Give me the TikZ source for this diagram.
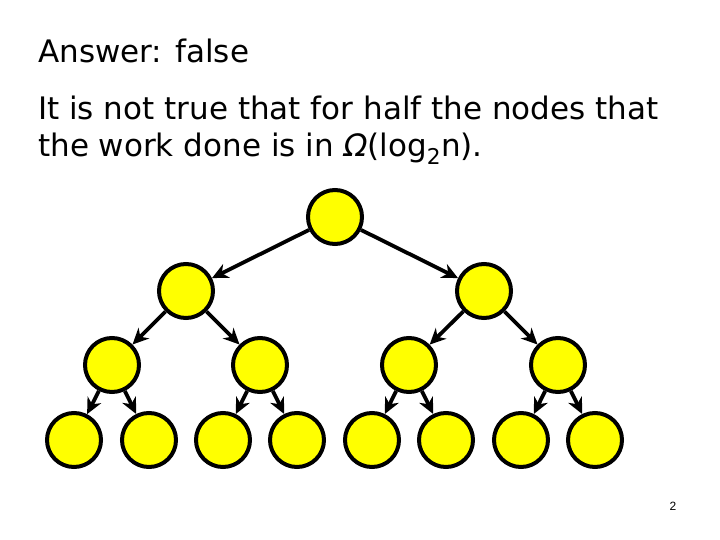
\documentclass[tikz,border=0pt]{standalone}
\usepackage{fontspec}
\setmainfont{DejaVu Sans}
\setsansfont{Liberation Sans}
\usetikzlibrary{arrows.meta}
\definecolor{nodeyellow}{RGB}{255,255,0}
\tikzset{
  tnode/.style={circle, draw=black, line width=4pt, fill=nodeyellow, minimum size=54pt, inner sep=0pt},
  tedge/.style={line width=3.8pt, -{Stealth[length=16pt,width=15pt,inset=5pt]}},
  txt/.style={anchor=base west, inner sep=0pt, font=\fontsize{31}{37}\selectfont}
}
\begin{document}
\begin{tikzpicture}[x=1pt,y=-1pt]
\useasboundingbox (0,0) rectangle (720,540);
\node[txt] (t1) at (38,63) {Answer: false};
\node[txt] (t2) at (38,120) {It is not true that for half the nodes that};
\node[txt] (t3) at (38,157) {the work done is in \textit{Ω}(log\textsubscript{2}n).};
\node[anchor=base, inner sep=0pt, font=\sffamily\fontsize{12}{14}\selectfont] (pg) at (673,510) {2};

\node[tnode] (r) at (335,217) {};
\node[tnode] (a) at (186,291) {};
\node[tnode] (b) at (484,291) {};
\node[tnode] (a1) at (112,365) {};
\node[tnode] (a2) at (260,365) {};
\node[tnode] (b1) at (409,365) {};
\node[tnode] (b2) at (558,365) {};
\node[tnode] (c1) at (74,440) {};
\node[tnode] (c2) at (149,440) {};
\node[tnode] (c3) at (223,440) {};
\node[tnode] (c4) at (297,440) {};
\node[tnode] (c5) at (372,440) {};
\node[tnode] (c6) at (446,440) {};
\node[tnode] (c7) at (521,440) {};
\node[tnode] (c8) at (595,440) {};

\draw[tedge] (r) -- (a);
\draw[tedge] (r) -- (b);
\draw[tedge] (a) -- (a1);
\draw[tedge] (a) -- (a2);
\draw[tedge] (b) -- (b1);
\draw[tedge] (b) -- (b2);
\draw[tedge] (a1) -- (c1);
\draw[tedge] (a1) -- (c2);
\draw[tedge] (a2) -- (c3);
\draw[tedge] (a2) -- (c4);
\draw[tedge] (b1) -- (c5);
\draw[tedge] (b1) -- (c6);
\draw[tedge] (b2) -- (c7);
\draw[tedge] (b2) -- (c8);
\end{tikzpicture}
\end{document}
